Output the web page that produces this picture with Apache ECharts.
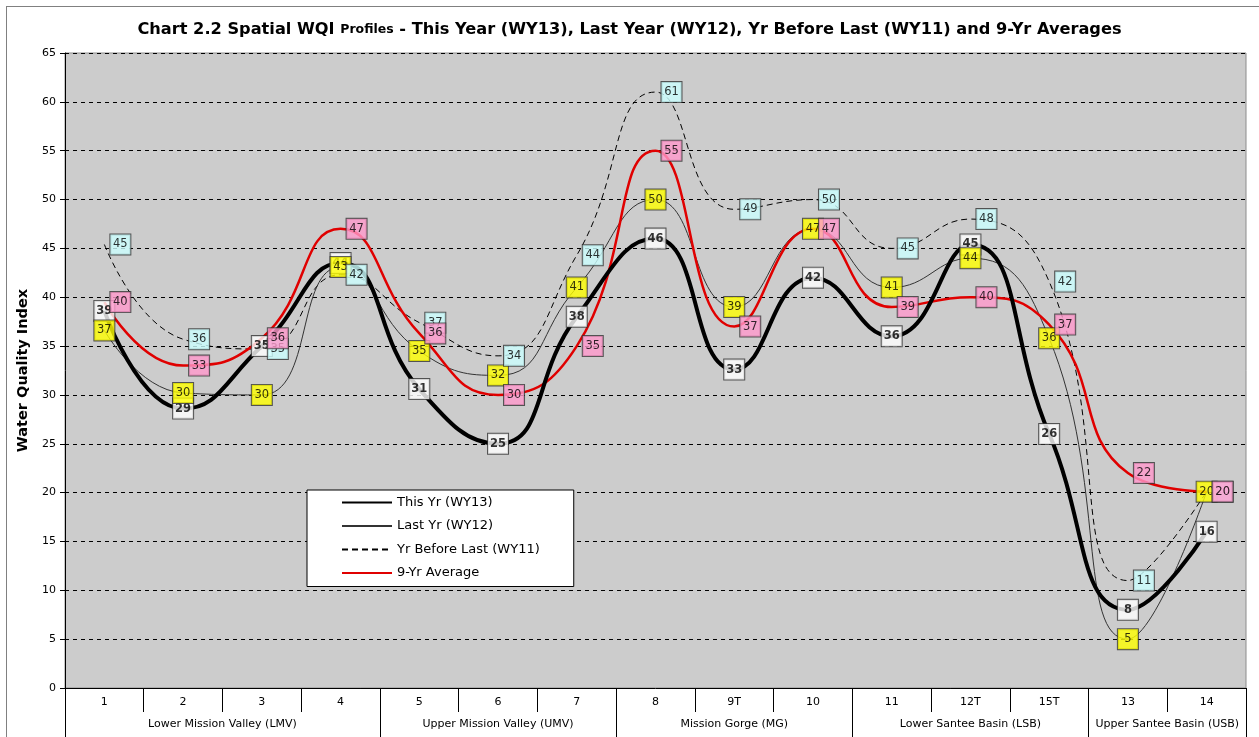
<!DOCTYPE html>
<html>
<head>
<meta charset="utf-8" />
<title>Spatial WQI Profiles</title>
<script type="text/javascript" src="https://cdn.jsdelivr.net/npm/echarts@6/dist/echarts.min.js"></script>
<style>
	html, body { margin: 0; padding: 0; width: 100%; height: 100%; background: #fff; }
	#container { width: 1259px; height: 737px; }
	#frame { position: absolute; left: 6px; top: 6px; width: 1300px; height: 800px; border: 1px solid #808080; pointer-events: none; }
</style>
</head>
<body>
<div id="container"></div>
<div id="frame"></div>
<script>
// stations along the river
var stations = ['1', '2', '3', '4', '5', '6', '7', '8', '9T', '10', '11', '12T', '15T', '13', '14'];
// reaches and how many stations each one holds
var groupNames = ['Lower Mission Valley (LMV)', 'Upper Mission Valley (UMV)', 'Mission Gorge (MG)', 'Lower Santee Basin (LSB)', 'Upper Santee Basin (USB)'];
var groupSizes = [4, 3, 3, 3, 2];

// WQI per station (labels show the rounded value)
var thisYr   = [38.6, 28.6, 35.0, 43.5, 30.6, 25.0, 38.0, 46.0, 32.6, 42.0, 36.0, 45.4, 26.0, 8.0, 16.0];
var lastYr   = [36.6, 30.2, 30.0, 43.1, 34.5, 32.0, 41.0, 50.0, 39.0, 47.0, 41.0, 44.0, 35.8, 5.0, 20.1];
var yrBefore = [45.4, 35.7, 34.7, 42.3, 37.4, 34.0, 44.3, 61.0, 49.0, 50.0, 45.0, 48.0, 41.6, 11.0, 20.1];
var avg9     = [39.5, 33.0, 35.8, 47.0, 36.3, 30.0, 35.0, 55.0, 37.0, 47.0, 39.0, 40.0, 37.2, 22.0, 20.1];

var yTicks = { min: 0, max: 65, step: 5 };

// group boundaries and centres on a -0.5..n-0.5 scale
var bounds = [-0.5];
var centres = [];
var pos = -0.5;
for (var i = 0; i < groupSizes.length; i++) {
	centres.push(pos + groupSizes[i] / 2);
	pos += groupSizes[i];
	bounds.push(pos);
}

var font = 'DejaVu Sans';

function labelSeries(name, data, bg, bold, dx) {
	return {
		name: name + ' labels',
		type: 'scatter',
		data: data,
		symbol: 'circle',
		symbolSize: 1,
		itemStyle: { color: 'rgba(0,0,0,0)' },
		silent: true,
		z: 5,
		label: {
			show: true,
			position: 'inside',
			offset: [dx, 0],
			formatter: function (p) { return Math.round(p.value); },
			fontFamily: font,
			fontSize: 11.5,
			fontWeight: bold ? 'bold' : 'normal',
			color: '#000',
			backgroundColor: bg,
			borderColor: '#333',
			borderWidth: 1,
			width: 16,
			align: 'center',
			lineHeight: 14,
			padding: [3, 2, 3, 2]
		}
	};
}

var dom = document.getElementById('container');
var myChart = echarts.init(dom);

var option = {
	animation: false,
	backgroundColor: '#fff',
	textStyle: { fontFamily: font },
	title: {
		left: 'center',
		top: 17,
		text: '{a|Chart 2.2 Spatial WQI }{b|Profiles}{a| - This Year (WY13), Last Year (WY12), Yr Before Last (WY11) and 9-Yr Averages}',
		textStyle: {
			rich: {
				a: { fontFamily: font, fontSize: 16.2, fontWeight: 'bold', color: '#000' },
				b: { fontFamily: font, fontSize: 12.5, fontWeight: 'bold', color: '#000' }
			}
		}
	},
	legend: {
		orient: 'vertical',
		left: 307,
		top: 490,
		data: ['This Yr (WY13)', 'Last Yr (WY12)', 'Yr Before Last (WY11)', '9-Yr Average'],
		backgroundColor: '#fff',
		borderColor: '#000',
		borderWidth: 1,
		padding: [6, 34, 7, 34],
		itemWidth: 50,
		itemHeight: 14,
		itemGap: 10.5,
		itemStyle: { opacity: 0 },
		textStyle: { fontFamily: font, fontSize: 13, color: '#000' }
	},
	grid: {
		left: 65,
		right: 13,
		top: 53,
		bottom: 49,
		show: true,
		backgroundColor: '#cccccc',
		borderColor: '#8c8c8c',
		borderWidth: 1
	},
	xAxis: [{
		type: 'category',
		data: stations,
		boundaryGap: true,
		position: 'bottom',
		axisLine: { lineStyle: { color: '#000', width: 1 } },
		axisTick: { show: true, interval: 0, length: 24, lineStyle: { color: '#000' } },
		axisLabel: { interval: 0, margin: 9, fontFamily: font, fontSize: 11, color: '#000' }
	}, {
		type: 'value',
		position: 'bottom',
		min: -0.5,
		max: stations.length - 0.5,
		splitLine: { show: false },
		axisLine: { show: false },
		axisTick: { show: true, length: 52, customValues: bounds, lineStyle: { color: '#000' } },
		axisLabel: {
			customValues: centres,
			margin: 31,
			fontFamily: font,
			fontSize: 11,
			color: '#000',
			formatter: function (v) {
				for (var k = 0; k < centres.length; k++) {
					if (Math.abs(centres[k] - v) < 0.01) return groupNames[k];
				}
				return '';
			}
		}
	}],
	yAxis: {
		type: 'value',
		min: yTicks.min,
		max: yTicks.max,
		interval: yTicks.step,
		name: 'Water Quality Index',
		nameLocation: 'middle',
		nameGap: 30,
		nameTextStyle: { fontFamily: font, fontSize: 14.5, fontWeight: 'bold', color: '#000' },
		axisLine: { show: true, onZero: false, lineStyle: { color: '#000' } },
		axisTick: { show: true, length: 5, lineStyle: { color: '#000' } },
		axisLabel: { margin: 9, fontFamily: font, fontSize: 11, color: '#000' },
		splitLine: { show: true, lineStyle: { color: '#000', type: [4, 4], width: 1 } }
	},
	series: [{
		name: 'Yr Before Last (WY11)',
		type: 'line',
		data: yrBefore,
		smooth: 0.5,
		symbol: 'none',
		lineStyle: { color: '#000', width: 1, type: [6, 4] },
		itemStyle: { color: '#000' }
	}, {
		name: 'Last Yr (WY12)',
		type: 'line',
		data: lastYr,
		smooth: 0.5,
		symbol: 'none',
		lineStyle: { color: '#333', width: 1 },
		itemStyle: { color: '#333' }
	}, {
		name: '9-Yr Average',
		type: 'line',
		data: avg9,
		smooth: 0.5,
		symbol: 'none',
		lineStyle: { color: '#e00000', width: 2.5 },
		itemStyle: { color: '#e00000' }
	}, {
		name: 'This Yr (WY13)',
		type: 'line',
		data: thisYr,
		smooth: 0.5,
		symbol: 'none',
		lineStyle: { color: '#000', width: 4 },
		itemStyle: { color: '#000' }
	},
		labelSeries('This Yr (WY13)', thisYr, '#ffffff', true, 0),
		labelSeries('Last Yr (WY12)', lastYr, '#ffff00', false, 0),
		labelSeries('Yr Before Last (WY11)', yrBefore, '#ccffff', false, 16),
		labelSeries('9-Yr Average', avg9, '#ff99cc', false, 16)
	]
};

myChart.setOption(option);
</script>
</body>
</html>
